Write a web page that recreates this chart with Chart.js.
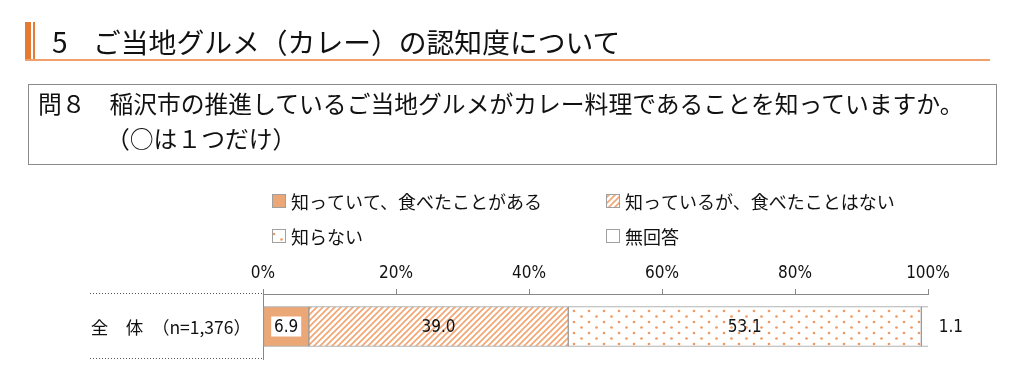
<!DOCTYPE html>
<html lang="ja">
<head>
<meta charset="utf-8">
<script src="https://cdn.jsdelivr.net/npm/chart.js@4"></script>
<style>
  html,body{margin:0;padding:0;background:#fff;}
  #wrap{position:relative;width:1024px;height:387px;overflow:hidden;background:#fff;}
  #c{position:absolute;left:0;top:0;}
  .ov{position:absolute;white-space:nowrap;font-family:"Noto Sans CJK JP","Noto Sans",sans-serif;color:#111;}
  .bar1{position:absolute;left:25px;top:22px;width:6px;height:38px;background:#E57A35;}
  .bar2{position:absolute;left:33px;top:22px;width:2px;height:38px;background:#E57A35;}
  .hline{position:absolute;left:25px;top:59px;width:965px;height:2px;background:#F0A068;}
  .qbox{position:absolute;left:28px;top:84px;width:967px;height:79px;border:1.5px solid #8a8a8a;}
</style>
</head>
<body>
<div id="wrap">
  <canvas id="c" width="1024" height="387"></canvas>
  <div class="bar1"></div><div class="bar2"></div><div class="hline"></div>
  <div class="ov" id="title" style="left:52px;top:22px;font-size:28px;line-height:38px;">5</div>
  <div class="ov" id="title2" style="left:93px;top:22px;font-size:27.8px;line-height:38px;">ご当地グルメ（カレー）の認知度について</div>
  <div class="qbox"></div>
  <div class="ov" style="left:38px;top:88px;font-size:23.8px;line-height:30px;">問８　稲沢市の推進しているご当地グルメがカレー料理であることを知っていますか。</div>
  <div class="ov" style="left:106px;top:123px;font-size:23.8px;line-height:30px;">（○は１つだけ）</div>
</div>
<script>
// ---- data ----
const categories = ['全　体　（n=1,376）'];
const seriesNames = ['知っていて、食べたことがある', '知っているが、食べたことはない', '知らない', '無回答'];
const seriesKnowAte = [6.9];
const seriesKnowNotAte = [39.0];
const seriesDontKnow = [53.1];
const seriesNoAnswer = [1.1];
const tickLabels = ['0%', '20%', '40%', '60%', '80%', '100%'];

// ---- patterns ----
function makeHatch(){
  const t = document.createElement('canvas'); t.width = 6; t.height = 6;
  const g = t.getContext('2d');
  g.fillStyle = '#fff'; g.fillRect(0,0,6,6);
  g.strokeStyle = '#F2A571'; g.lineWidth = 1.6;
  g.beginPath();
  g.moveTo(0,6); g.lineTo(6,0);
  g.moveTo(-3,3); g.lineTo(3,-3);
  g.moveTo(3,9); g.lineTo(9,3);
  g.stroke();
  return g.createPattern(t,'repeat');
}
function makeDots(){
  const t = document.createElement('canvas'); t.width = 15; t.height = 11;
  const g = t.getContext('2d');
  g.fillStyle = '#fff'; g.fillRect(0,0,15,11);
  g.fillStyle = '#EE9A62';
  g.beginPath(); g.arc(4,3,1.35,0,Math.PI*2); g.fill();
  g.beginPath(); g.arc(11.5,8.5,1.35,0,Math.PI*2); g.fill();
  return g.createPattern(t,'repeat');
}
const ctx = document.getElementById('c').getContext('2d');
const fills = ['#ECA776', makeHatch(), makeDots(), '#ffffff'];
const seriesValues = [seriesKnowAte, seriesKnowNotAte, seriesDontKnow, seriesNoAnswer];

const numFamily = '"DejaVu Sans Condensed", "Liberation Sans Narrow", "Liberation Sans", sans-serif';

const legendPlugin = {
  id: 'customLegend',
  afterDraw(chart){
    const c = chart.ctx;
    const pos = [[272,201],[606,201],[272,236],[606,236]];
    chart.data.datasets.forEach((ds,i)=>{
      const [x,y] = pos[i];
      c.save();
      c.fillStyle = ds.backgroundColor;
      c.fillRect(x, y-7, 14, 14);
      c.strokeStyle = '#a0a0a0'; c.lineWidth = 1;
      c.strokeRect(x+0.5, y-6.5, 13, 13);
      c.fillStyle = '#111';
      c.font = '18px "Noto Sans CJK JP", sans-serif';
      c.textBaseline = 'middle'; c.textAlign = 'left';
      c.fillText(ds.label, x+19, y+1);
      c.restore();
    });
  }
};

const labelPlugin = {
  id: 'valueLabels',
  afterDatasetsDraw(chart){
    const c = chart.ctx;
    const yScale = chart.scales.y;
    const area = chart.chartArea;
    c.save();
    chart.data.labels.forEach((lab, idx)=>{
      const y = yScale.getPixelForValue(idx);
      c.fillStyle = '#111';
      c.font = '17.5px "Noto Sans CJK JP", sans-serif';
      c.textAlign = 'right'; c.textBaseline = 'middle';
      c.fillText(lab, 251, y+1);
    });
    c.strokeStyle = '#555'; c.lineWidth = 1; c.setLineDash([1,2]);
    [area.top, area.bottom].forEach(yy=>{
      const py = Math.round(yy) - 0.5;
      c.beginPath(); c.moveTo(90, py); c.lineTo(area.left, py); c.stroke();
    });
    c.restore();

    chart.data.datasets.forEach((ds, i)=>{
      const meta = chart.getDatasetMeta(i);
      meta.data.forEach((bar, j)=>{
        const txt = ds.data[j].toFixed(1);
        c.save();
        c.font = '17px ' + numFamily;
        c.textBaseline = 'middle';
        c.fillStyle = '#111';
        if (i === seriesValues.length - 1) {
          c.textAlign = 'left';
          c.fillText(txt, bar.x + 10, bar.y + 1);
        } else {
          const cx = (bar.x + bar.base) / 2;
          if (i === 0) {
            c.fillStyle = '#fff';
            c.fillRect(cx - 15, bar.y - 10, 30, 20);
            c.fillStyle = '#111';
          }
          c.textAlign = 'center';
          c.fillText(txt, cx, bar.y + 1);
        }
        c.restore();
      });
    });
  }
};

new Chart(ctx, {
  type: 'bar',
  data: {
    labels: categories,
    datasets: seriesNames.map((n, i) => ({
      label: n,
      data: seriesValues[i],
      backgroundColor: fills[i],
      borderColor: '#9a9a9a',
      borderWidth: 1,
      borderSkipped: false,
      barThickness: 40
    }))
  },
  options: {
    indexAxis: 'y',
    responsive: false,
    animation: false,
    events: [],
    layout: { padding: { left: 263, right: 96, top: 200, bottom: 28 } },
    plugins: { legend: { display: false }, tooltip: { enabled: false } },
    scales: {
      x: {
        position: 'top', stacked: true, min: 0, max: 100,
        ticks: {
          stepSize: 20,
          callback: (v, i) => tickLabels[i],
          font: { family: numFamily, size: 17 },
          color: '#111', padding: 5, maxRotation: 0
        },
        grid: { drawOnChartArea: false, tickLength: 5, color: '#888', lineWidth: 1 },
        border: { color: '#888', width: 1 },
        afterFit(s){ s.height = 94; }
      },
      y: {
        stacked: true,
        ticks: { display: false },
        grid: { display: false },
        border: { color: '#888', width: 1 },
        afterFit(s){ s.width = 0; }
      }
    }
  },
  plugins: [legendPlugin, labelPlugin]
});
</script>
</body>
</html>
